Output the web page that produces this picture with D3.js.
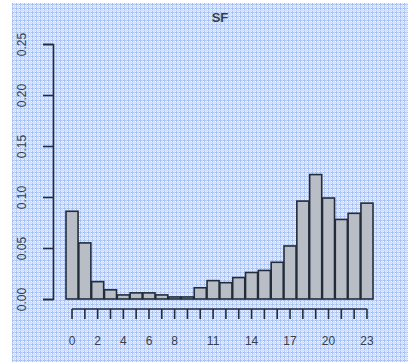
<!DOCTYPE html>
<html>
<head>
<meta charset="utf-8">
<script src="https://cdn.jsdelivr.net/npm/d3@7"></script>
<style>
  body{margin:0;background:#fff;}
  svg{display:block;font-family:"Liberation Sans",Arial,sans-serif;}
</style>
</head>
<body>
<svg id="chart" width="408" height="362"></svg>
<script>
// hour of day and share of trips
const hours = d3.range(0, 24);
const shares = [0.086, 0.055, 0.017, 0.009, 0.004, 0.006, 0.006, 0.004, 0.002, 0.002,
                0.011, 0.018, 0.016, 0.021, 0.026, 0.028, 0.036, 0.052, 0.096, 0.122,
                0.099, 0.078, 0.084, 0.094];
const yTicks = [0, 0.05, 0.10, 0.15, 0.20, 0.25];
const xLabels = [0, 2, 4, 6, 8, 11, 14, 17, 20, 23];
const title = "SF";

const svg = d3.select("#chart");
const W = 408, H = 362;

// graph paper background
const defs = svg.append("defs");
const pat = defs.append("pattern").attr("id", "grid")
    .attr("width", 4).attr("height", 4).attr("patternUnits", "userSpaceOnUse");
pat.append("rect").attr("width", 4).attr("height", 4).attr("fill", "#eaf1ff");
pat.append("rect").attr("x", 0).attr("y", 0).attr("width", 1).attr("height", 4).attr("fill", "#a3c2fb");
pat.append("rect").attr("x", 0).attr("y", 0).attr("width", 4).attr("height", 1).attr("fill", "#a3c2fb");
pat.append("rect").attr("x", 2).attr("y", 0).attr("width", 1).attr("height", 4).attr("fill", "#cfdffd");
pat.append("rect").attr("x", 0).attr("y", 2).attr("width", 4).attr("height", 1).attr("fill", "#cfdffd");
svg.append("rect").attr("x", 12).attr("y", 3).attr("width", W - 12).attr("height", H - 3)
    .attr("fill", "url(#grid)");

// scales
const y = d3.scaleLinear().domain([0, 0.25]).range([299, 44]);
const x = d3.scaleBand().domain(hours).range([66, 373]).paddingInner(0.06).paddingOuter(0);

const ink = "#222c3a";
const txt = "#383d48";

// bars
svg.append("g").selectAll("rect").data(shares).join("rect")
    .attr("x", (d, i) => x(hours[i]))
    .attr("y", d => y(d))
    .attr("width", x.bandwidth())
    .attr("height", d => y(0) - y(d))
    .attr("fill", "#b9bdc6")
    .attr("stroke", ink)
    .attr("stroke-width", 1.6);

// y axis
const yAxis = svg.append("g").attr("transform", "translate(53,0)")
    .call(d3.axisLeft(y).tickValues(yTicks).tickSize(10).tickFormat(d3.format(".2f")));
yAxis.select(".domain").attr("stroke", ink).attr("stroke-width", 1.6);
yAxis.selectAll(".tick line").attr("stroke", ink).attr("stroke-width", 1.6);
yAxis.selectAll(".tick text")
    .attr("transform", "rotate(-90)")
    .attr("x", 0).attr("y", -31).attr("dy", "0.35em")
    .attr("text-anchor", "middle")
    .attr("font-size", 12).attr("fill", txt);

// x axis
const xAxis = svg.append("g").attr("transform", "translate(0,309)")
    .call(d3.axisBottom(x).tickSize(10).tickSizeOuter(0)
        .tickFormat(d => xLabels.includes(d) ? d : ""));
xAxis.select(".domain").attr("stroke", ink).attr("stroke-width", 1.6)
    .attr("d", `M${x(0) + x.bandwidth() / 2},0H${x(23) + x.bandwidth() / 2}`);
xAxis.selectAll(".tick line").attr("stroke", ink).attr("stroke-width", 1.6);
xAxis.selectAll(".tick text").attr("y", 32).attr("dy", "0.35em")
    .attr("font-size", 12).attr("fill", txt);

// title
svg.append("text").attr("x", 220).attr("y", 22).attr("text-anchor", "middle")
    .attr("font-size", 13).attr("font-weight", "bold").attr("fill", txt)
    .text(title);
</script>
</body>
</html>
